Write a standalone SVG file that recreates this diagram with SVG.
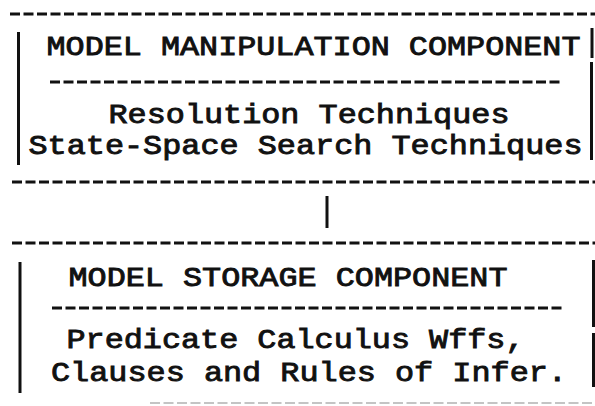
<svg xmlns="http://www.w3.org/2000/svg" width="595" height="406" viewBox="0 0 595 406">
  <style>
    .bg { fill: #ffffff; }
    .dash { stroke: #111; stroke-width: 3; stroke-dasharray: 10 3.5; fill: none; }
    .faint { stroke: #c4c4c4; stroke-width: 2; stroke-dasharray: 10 3.5; fill: none; }
    .rule { stroke: #111; stroke-width: 3; fill: none; }
    .tt { font-family: "Liberation Mono", "Courier New", monospace; font-size: 28px; font-weight: normal; fill: #111; stroke: #111; stroke-width: 0.9; }
  </style>
  <rect class="bg" x="0" y="0" width="595" height="406"/>

  <!-- Upper box: model manipulation component -->
  <g id="manipulation-component">
    <line class="dash" x1="10" y1="14" x2="595" y2="14"/>
    <line class="rule" x1="18.5" y1="32" x2="18.5" y2="165"/>
    <line class="rule" x1="592" y1="28" x2="592" y2="58"/>
    <line class="rule" x1="591.5" y1="62" x2="591.5" y2="160"/>
    <text class="tt" x="46.5" y="55" textLength="534" lengthAdjust="spacingAndGlyphs">MODEL MANIPULATION COMPONENT</text>
    <line class="dash" x1="50" y1="82" x2="562" y2="82"/>
    <text class="tt" x="108.5" y="123" textLength="401" lengthAdjust="spacingAndGlyphs">Resolution Techniques</text>
    <text class="tt" x="28.5" y="154" textLength="554" lengthAdjust="spacingAndGlyphs">State-Space Search Techniques</text>
    <line class="dash" x1="12" y1="182" x2="595" y2="182"/>
  </g>

  <!-- Link between the two components -->
  <g id="connectors">
    <line class="rule" x1="327" y1="196" x2="327" y2="228"/>
  </g>

  <!-- Lower box: model storage component -->
  <g id="storage-component">
    <line class="dash" x1="12" y1="243" x2="595" y2="243"/>
    <line class="rule" x1="20" y1="262" x2="20" y2="393"/>
    <line class="rule" x1="593.5" y1="260" x2="593.5" y2="327"/>
    <line class="rule" x1="593.5" y1="333" x2="593.5" y2="387"/>
    <text class="tt" x="68.5" y="286" textLength="439" lengthAdjust="spacingAndGlyphs">MODEL STORAGE COMPONENT</text>
    <line class="dash" x1="52" y1="308" x2="565" y2="308"/>
    <text class="tt" x="66.5" y="348" textLength="458" lengthAdjust="spacingAndGlyphs">Predicate Calculus Wffs,</text>
    <text class="tt" x="51" y="381" textLength="516" lengthAdjust="spacingAndGlyphs">Clauses and Rules of Infer.</text>
    <line class="faint" x1="150" y1="403" x2="595" y2="403"/>
  </g>
</svg>
